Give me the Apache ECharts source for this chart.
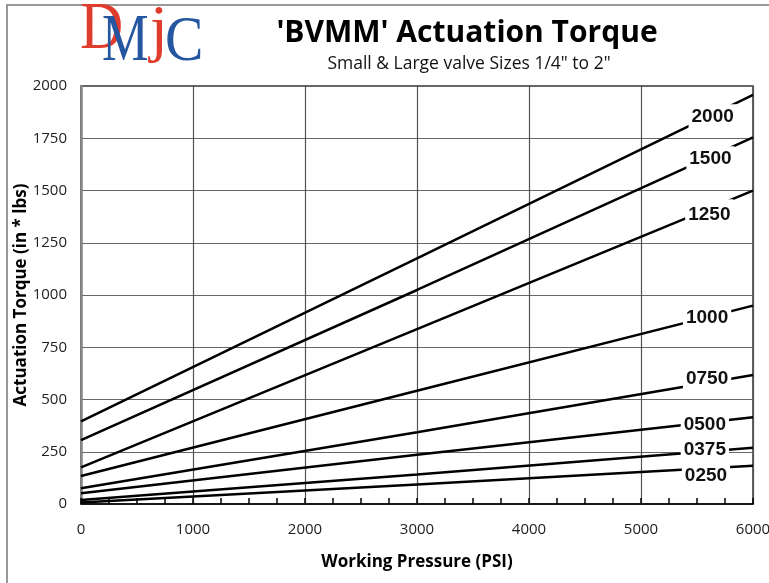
<!DOCTYPE html>
<html>
<head>
<meta charset="utf-8">
<script src="https://cdn.jsdelivr.net/npm/echarts@6/dist/echarts.min.js"></script>
<style>html,body{margin:0;padding:0;background:#fff;}#c{width:769px;height:583px;}</style>
</head>
<body>
<div id="c"></div>
<script>
// ---- data ----
const pressure = [0, 3000, 6000];
const seriesNames = ['2000', '1500', '1250', '1000', '0750', '0500', '0375', '0250'];
const t2000 = [395, 1175, 1957];
const t1500 = [306, 1024, 1754];
const t1250 = [175, 837, 1499];
const t1000 = [134, 542, 949];
const t0750 = [75, 343, 617];
const t0500 = [51, 236, 415];
const t0375 = [19, 141, 269];
const t0250 = [7, 93, 183];
const torqueSets = [t2000, t1500, t1250, t1000, t0750, t0500, t0375, t0250];
// where each curve label sits on its line (pressure, torque)
const labelPressure = [5640, 5620, 5610, 5590, 5590, 5570, 5570, 5580];
const labelTorque = [1863, 1662, 1413, 893, 580, 389, 251, 171];
const xTicks = [0, 1000, 2000, 3000, 4000, 5000, 6000];
const yTicks = [0, 250, 500, 750, 1000, 1250, 1500, 1750, 2000];

// ---- label styling (layout only) ----
const labelLayout = {
  '2000': { offset: [0, 2], padding: [3, 3, 3, 3] },
  '1500': { offset: [0, 2], padding: [3, 3, 3, 3] },
  '1250': { offset: [0, 6], padding: [9, 3, 3, 3] },
  '1000': { offset: [0, 0], padding: [3, 3, 3, 3] },
  '0750': { offset: [0, -4], padding: [3, 3, 7, 3] },
  '0500': { offset: [0, 2], padding: [3, 3, 3, 3] },
  '0375': { offset: [0, -2], padding: [3, 3, 3, 3] },
  '0250': { offset: [0, 8], padding: [13, 3, 3, 3] }
};

const chart = echarts.init(document.getElementById('c'), null, { renderer: 'canvas' });

const series = seriesNames.map((name, i) => ({
  name: name,
  type: 'line',
  data: pressure.map((p, j) => [p, torqueSets[i][j]]),
  symbol: 'none',
  lineStyle: { color: '#000', width: 2.5 },
  silent: true,
  animation: false,
  z: 3,
  markPoint: {
    symbol: 'rect',
    symbolSize: [1, 1],
    itemStyle: { color: 'rgba(0,0,0,0)' },
    animation: false,
    silent: true,
    z: 10,
    label: {
      show: true,
      position: 'inside',
      formatter: name,
      offset: labelLayout[name].offset,
      padding: labelLayout[name].padding,
      backgroundColor: '#fff',
      color: '#111',
      fontFamily: '"Liberation Sans", Arial, sans-serif',
      fontWeight: 'bold',
      fontSize: 19,
      lineHeight: 19
    },
    data: [{ coord: [labelPressure[i], labelTorque[i]], name: name }]
  }
}));

const plain = v => String(v);

chart.setOption({
  animation: false,
  backgroundColor: '#fff',
  grid: { left: 81, right: 16, top: 86, bottom: 79, outerBoundsMode: 'none', containLabel: false, show: true, borderColor: '#333', borderWidth: 1.5, backgroundColor: 'transparent' },
  xAxis: {
    type: 'value',
    min: xTicks[0], max: xTicks[xTicks.length - 1], interval: 1000,
    name: 'Working Pressure (PSI)',
    nameLocation: 'middle',
    nameGap: 50,
    nameMoveOverlap: false,
    nameTextStyle: { fontFamily: '"Open Sans", sans-serif', fontWeight: 'bold', fontSize: 17, color: '#000' },
    axisLine: { show: true, lineStyle: { color: '#000', width: 1.5 } },
    axisTick: { show: true, inside: true, length: 6, lineStyle: { color: '#000', width: 1.5 } },
    minorTick: { show: true, splitNumber: 4, length: 6, lineStyle: { color: '#000', width: 1.5 } },
    splitLine: { show: true, lineStyle: { color: '#555', width: 1.2 } },
    axisLabel: { fontFamily: '"Open Sans", sans-serif', fontSize: 15, color: '#222', margin: 18, formatter: plain }
  },
  yAxis: {
    type: 'value',
    min: yTicks[0], max: yTicks[yTicks.length - 1], interval: 250,
    name: 'Actuation Torque (in * lbs)',
    nameLocation: 'middle',
    nameGap: 51,
    nameMoveOverlap: false,
    nameTextStyle: { fontFamily: '"Open Sans", sans-serif', fontWeight: 'bold', fontSize: 17, color: '#000' },
    axisLine: { show: true, lineStyle: { color: '#888', width: 2.5 } },
    axisTick: { show: false },
    splitLine: { show: true, lineStyle: { color: '#666', width: 1.2 } },
    axisLabel: { fontFamily: '"Open Sans", sans-serif', fontSize: 15, color: '#222', margin: 14, formatter: plain }
  },
  graphic: [
    { type: 'rect', shape: { x: 7, y: 5, width: 800, height: 700 }, style: { fill: 'none', stroke: '#999', lineWidth: 2 }, silent: true, z: 0 },
    { type: 'text', x: 467, y: 33, style: { text: "'BVMM' Actuation Torque", fill: '#000', font: 'bold 30px "Open Sans", sans-serif', textAlign: 'center', textVerticalAlign: 'middle' } },
    { type: 'text', x: 469, y: 64, style: { text: 'Small & Large valve Sizes 1/4" to 2"', fill: '#111', font: '17.5px "Open Sans", sans-serif', textAlign: 'center', textVerticalAlign: 'middle' } },
    { type: 'text', x: 80, y: 30, scaleX: 0.88, style: { text: 'D', fill: '#e03c2d', font: '68px "Liberation Serif", serif', textAlign: 'left', textVerticalAlign: 'middle' } },
    { type: 'text', x: 102, y: 42, scaleX: 0.77, style: { text: 'M', fill: '#2556a0', font: '68px "Liberation Serif", serif', textAlign: 'left', textVerticalAlign: 'middle' } },
    { type: 'text', x: 150, y: 32, style: { text: 'j', fill: '#e03c2d', font: '64px "Liberation Serif", serif', textAlign: 'left', textVerticalAlign: 'middle' } },
    { type: 'text', x: 165, y: 43, scaleX: 0.9, style: { text: 'C', fill: '#2556a0', font: '64px "Liberation Serif", serif', textAlign: 'left', textVerticalAlign: 'middle' } }
  ],
  series: series
});
</script>
</body>
</html>
